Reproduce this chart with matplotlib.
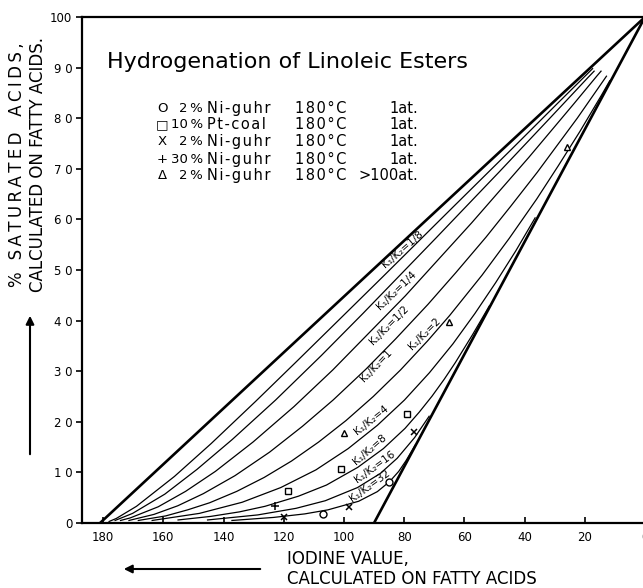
import matplotlib
matplotlib.use("Agg")
import matplotlib.pyplot as plt

# ------------------------------------------------------------
# Hydrogenation of linoleic esters: % saturated acids vs iodine value
# Curves for different k1/k2 ratios
# ------------------------------------------------------------

# straight boundary lines (k1/k2 = 0 and k1/k2 = infinity)
upper_iv = [181.0, 0.0]
upper_sat = [0.0, 100.0]
lower_iv = [90.0, 0.0]
lower_sat = [0.0, 100.0]

# k1/k2 curves: (iodine value, % saturated)
k_1_8_iv = [178.0, 175.6, 168.9, 156.3, 144.1, 129.4, 116.1, 100.7, 87.2, 64.0, 44.6, 29.1, 17.4]
k_1_8_sat = [0.3, 0.9, 3.3, 9.2, 15.7, 24.0, 31.7, 40.7, 48.6, 62.3, 73.7, 82.9, 89.8]

k_1_4_iv = [176.0, 170.2, 159.5, 148.8, 137.1, 122.7, 107.5, 93.7, 69.3, 48.4, 31.6, 19.0, 16.9]
k_1_4_sat = [0.5, 1.9, 5.7, 10.6, 16.5, 24.3, 33.1, 41.4, 56.4, 69.4, 80.0, 88.0, 89.3]

k_1_2_iv = [174.2, 171.0, 161.7, 152.6, 142.7, 130.2, 116.6, 103.7, 79.6, 57.6, 38.6, 23.7, 15.9, 14.6]
k_1_2_sat = [0.5, 1.0, 3.2, 6.25, 10.2, 16.0, 23.0, 30.25, 44.9, 59.3, 72.25, 82.8, 88.4, 89.3]

k_1_iv = [171.4, 163.1, 155.2, 146.7, 136.2, 124.7, 113.8, 103.6, 92.7, 82.8, 72.1, 62.8, 52.8,
          44.6, 35.8, 22.5, 14.9, 12.8]
k_1_sat = [0.5, 1.7, 3.4, 5.8, 9.35, 14.0, 19.1, 24.3, 30.4, 36.4, 43.2, 49.5, 56.5,
           62.6, 69.3, 80.0, 86.5, 88.3]

k_2_iv = [168.3, 159.2, 151.9, 144.6, 135.6, 126.5, 117.4, 108.4, 99.3, 90.25, 81.2, 72.2, 64.9,
          54.1, 45.1, 36.0, 28.8, 21.6, 14.4, 11.7]
k_2_sat = [0.5, 1.4, 2.6, 4.0, 6.25, 9.0, 12.25, 16.0, 20.25, 25.0, 30.25, 36.0, 41.0,
           49.0, 56.25, 64.0, 70.6, 77.4, 84.6, 87.4]

k_4_iv = [163.7, 148.0, 133.8, 121.0, 109.3, 98.6, 88.9, 79.9, 71.6, 63.8, 56.5, 49.6, 42.9, 36.5]
k_4_sat = [0.5, 1.9, 4.1, 7.0, 10.5, 14.7, 19.3, 24.3, 29.7, 35.4, 41.4, 47.5, 53.8, 60.3]

k_8_iv = [155.1, 144.3, 134.7, 126.2, 115.1, 105.8, 95.4, 86.9, 79.7, 75.0, 70.7, 66.7, 63.0, 57.2, 51.7]
k_8_sat = [0.6, 1.3, 2.2, 3.3, 5.3, 7.5, 11.0, 14.7, 18.7, 21.9, 25.1, 28.4, 31.7, 37.3, 42.9]

k_16_iv = [145.3, 128.6, 115.9, 106.2, 95.5, 87.9, 82.3, 76.5, 71.7]
k_16_sat = [0.6, 1.6, 2.9, 4.4, 7.0, 9.8, 12.8, 16.9, 21.1]

k_32_iv = [137.2, 123.4, 113.0, 105.3, 95.1, 88.9, 84.8, 81.8, 79.4, 76.3]
k_32_sat = [0.5, 1.1, 1.8, 2.6, 4.3, 6.2, 8.2, 10.2, 12.3, 15.4]

curve_ivs = [k_1_8_iv, k_1_4_iv, k_1_2_iv, k_1_iv, k_2_iv, k_4_iv, k_8_iv, k_16_iv, k_32_iv]
curve_sats = [k_1_8_sat, k_1_4_sat, k_1_2_sat, k_1_sat, k_2_sat, k_4_sat, k_8_sat, k_16_sat, k_32_sat]
curve_names = ["1/8", "1/4", "1/2", "1", "2", "4", "8", "16", "32"]

# where the curve labels sit (iodine value, % sat) and their angle
label_iv = [80.6, 82.6, 85.0, 89.3, 73.3, 90.9, 91.3, 89.9, 91.3]
label_sat = [54.0, 46.0, 39.1, 31.2, 37.4, 20.4, 14.6, 11.1, 7.3]
label_rot = [41, 44, 45, 46, 45, 39, 41, 36, 36]

# experimental points
circle_iv = [107.0, 85.1]
circle_sat = [1.8, 8.1]
square_iv = [118.7, 101.0, 79.1]
square_sat = [6.4, 10.7, 21.5]
cross_iv = [119.9, 98.3, 76.8]
cross_sat = [1.2, 3.2, 18.0]
plus_iv = [122.8]
plus_sat = [3.4]
tri_iv = [100.0, 65.2, 25.8]
tri_sat = [17.8, 39.7, 74.3]

# legend block
leg_symbols = ["O", "\u25A1", "X", "+", "\u0394"]
leg_pct = ["2\u2009%", "10\u2009%", "2\u2009%", "30\u2009%", "2\u2009%"]
leg_cat = ["Ni-guhr", "Pt-coal", "Ni-guhr", "Ni-guhr", "Ni-guhr"]
leg_temp = ["180\u00b0C"] * 5
leg_press = ["1at.", "1at.", "1at.", "1at.", ">100at."]

x_ticks = [0, 20, 40, 60, 80, 100, 120, 140, 160, 180]
y_ticks = [0, 10, 20, 30, 40, 50, 60, 70, 80, 90, 100]
y_ticklabels = ["0", "1 0", "2 0", "3 0", "4 0", "5 0", "6 0", "7 0", "8 0", "9 0", "100"]

W, H = 643, 588


def spaced(s, gap="\u2009"):
    # letter-spaced lettering, like the stencil text of the original
    return gap.join(s)


def main():
    fig = plt.figure(figsize=(W / 100, H / 100), dpi=100)
    ax = fig.add_axes([82 / W, 65 / H, 563 / W, 506 / H])
    ax.set_xlim(187, 0)
    ax.set_ylim(0, 100)

    # boundary lines
    ax.plot(upper_iv, upper_sat, color="black", lw=1.9, solid_capstyle="round")
    ax.plot(lower_iv, lower_sat, color="black", lw=1.9, solid_capstyle="round")

    for ivs, sats in zip(curve_ivs, curve_sats):
        ax.plot(ivs, sats, color="black", lw=0.9)

    for name, x, y, r in zip(curve_names, label_iv, label_sat, label_rot):
        ax.text(x, y, "K\u2081/K\u2082=" + name, rotation=r, rotation_mode="anchor",
                ha="center", va="center", fontsize=7.5)

    mk = dict(color="black", linestyle="none", zorder=4)
    ax.plot(circle_iv, circle_sat, marker="o", ms=5, mfc="white", mew=1.0, **mk)
    ax.plot(square_iv, square_sat, marker="s", ms=5, mfc="white", mew=1.0, **mk)
    ax.plot(cross_iv, cross_sat, marker="x", ms=5, mew=1.1, **mk)
    ax.plot(plus_iv, plus_sat, marker="+", ms=6, mew=1.1, **mk)
    ax.plot(tri_iv, tri_sat, marker="^", ms=5, mfc="white", mew=1.0, **mk)

    # title and legend text
    ax.text(0.044, 0.911, "Hydrogenation of Linoleic Esters", transform=ax.transAxes,
            ha="left", va="center", fontsize=16)
    row_y = [0.820, 0.787, 0.753, 0.719, 0.686]
    hair = "\u200a"
    for i, y in enumerate(row_y):
        ax.text((162 - 82) / 563, y, leg_symbols[i], transform=ax.transAxes,
                ha="center", va="center", fontsize=9.5)
        ax.text((203 - 82) / 563, y, leg_pct[i], transform=ax.transAxes,
                ha="right", va="center", fontsize=9.5)
        ax.text((207 - 82) / 563, y, spaced(leg_cat[i], hair), transform=ax.transAxes,
                ha="left", va="center", fontsize=10.5)
        ax.text((295 - 82) / 563, y, spaced(leg_temp[i], hair), transform=ax.transAxes,
                ha="left", va="center", fontsize=10.5)
        ax.text((418 - 82) / 563, y, leg_press[i], transform=ax.transAxes,
                ha="right", va="center", fontsize=10.5)

    # axes styling
    ax.spines["right"].set_visible(False)
    for s in ["top", "left", "bottom"]:
        ax.spines[s].set_linewidth(1.6)
    ax.set_xticks(x_ticks)
    ax.set_xticklabels([str(v) for v in x_ticks], fontsize=8.5)
    ax.set_yticks(y_ticks)
    ax.set_yticklabels(y_ticklabels, fontsize=8.5)
    ax.tick_params(axis="x", direction="in", length=4, width=1.2, pad=6)
    ax.tick_params(axis="y", direction="out", length=4, width=1.2, pad=3)

    # axis titles
    fig.text(17 / W, 1 - 165 / H, spaced("% SATURATED") + "   " + spaced("ACIDS,"), rotation=90,
             ha="center", va="center", fontsize=12)
    fig.text(38 / W, 1 - 165 / H, "CALCULATED ON FATTY ACIDS.", rotation=90,
             ha="center", va="center", fontsize=12)
    fig.text(287 / W, 1 - 559 / H, "IODINE VALUE,", ha="left", va="center", fontsize=12)
    fig.text(287 / W, 1 - 579 / H, "CALCULATED ON FATTY ACIDS", ha="left", va="center", fontsize=12)

    # direction arrows
    arr = dict(arrowstyle="-|>", lw=1.5, color="black", mutation_scale=12)
    fig.add_artist(matplotlib.patches.FancyArrowPatch(
        (30 / W, 1 - 457 / H), (30 / W, 1 - 313 / H), transform=fig.transFigure, **arr))
    fig.add_artist(matplotlib.patches.FancyArrowPatch(
        (263 / W, 1 - 569 / H), (121 / W, 1 - 569 / H), transform=fig.transFigure, **arr))

    fig.savefig("out.png", dpi=100)


if __name__ == "__main__":
    main()
